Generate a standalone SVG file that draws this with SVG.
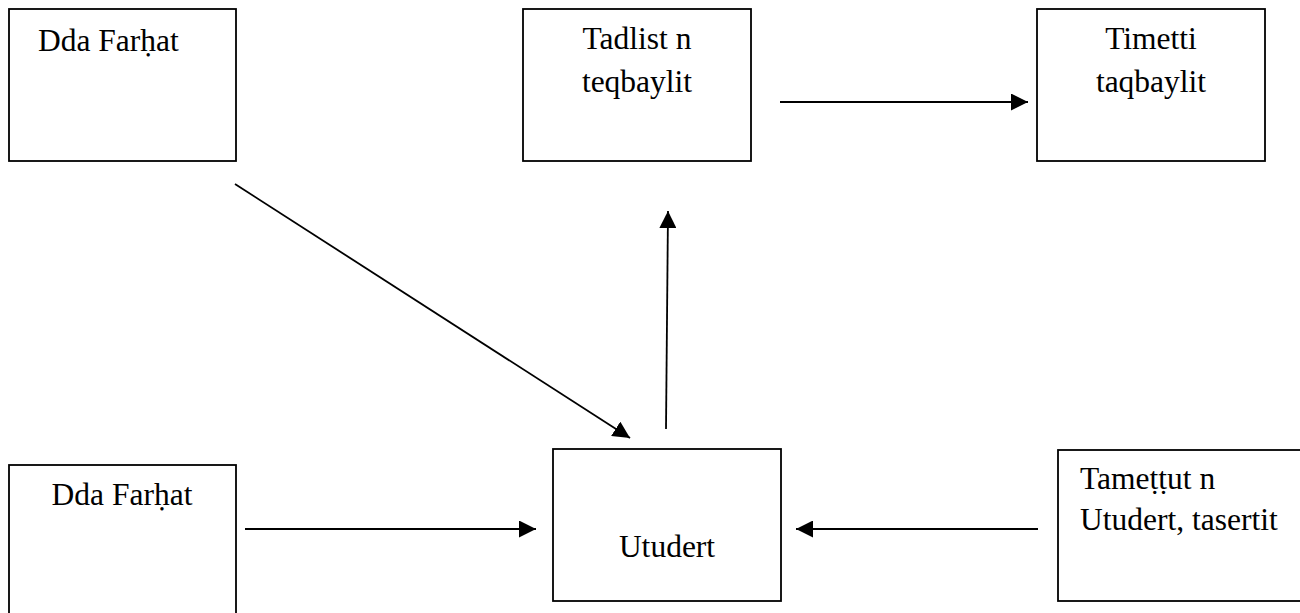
<svg xmlns="http://www.w3.org/2000/svg" width="1300" height="613" viewBox="0 0 1300 613">
  <style>
    .box { fill: #ffffff; stroke: #000000; stroke-width: 1.8; }
    .label { font-family: "Liberation Serif", "Times New Roman", serif; font-size: 31.5px; fill: #000000; }
    .mid { text-anchor: middle; }
    .edge { stroke: #000000; stroke-width: 1.8; fill: none; marker-end: url(#arrow); }
  </style>
  <defs>
    <marker id="arrow" markerUnits="userSpaceOnUse" markerWidth="17" markerHeight="17" viewBox="0 0 17 17" refX="17" refY="8.5" orient="auto">
      <path d="M0,0 L17,8.5 L0,17 Z" fill="#000000"/>
    </marker>
  </defs>
  <rect width="1300" height="613" fill="#ffffff"/>

  <g id="node-dda-farhat-top">
    <rect class="box" x="9" y="9" width="227" height="152"/>
    <text class="label" x="38" y="51">Dda Farḥat</text>
  </g>

  <g id="node-tadlist">
    <rect class="box" x="523" y="9" width="228" height="152"/>
    <text class="label mid" x="637" y="49">Tadlist n</text>
    <text class="label mid" x="637" y="92">teqbaylit</text>
  </g>

  <g id="node-timetti">
    <rect class="box" x="1037" y="9" width="228" height="152"/>
    <text class="label mid" x="1151" y="49">Timetti</text>
    <text class="label mid" x="1151" y="92">taqbaylit</text>
  </g>

  <g id="node-dda-farhat-bottom">
    <rect class="box" x="9" y="465" width="227" height="160"/>
    <text class="label mid" x="122" y="505">Dda Farḥat</text>
  </g>

  <g id="node-utudert">
    <rect class="box" x="553" y="449" width="228" height="152"/>
    <text class="label mid" x="667" y="557">Utudert</text>
  </g>

  <g id="node-tamettut">
    <rect class="box" x="1058" y="450" width="260" height="151"/>
    <text class="label" x="1080" y="489">Tameṭṭut n</text>
    <text class="label" x="1080" y="530">Utudert, tasertit</text>
  </g>

  <g id="connectors">
    <line class="edge" x1="780" y1="102" x2="1028" y2="102"/>
    <line class="edge" x1="666" y1="429" x2="668" y2="211"/>
    <line class="edge" x1="235" y1="184" x2="630" y2="438"/>
    <line class="edge" x1="245" y1="529" x2="536" y2="529"/>
    <line class="edge" x1="1038" y1="529" x2="796" y2="529"/>
  </g>
</svg>
